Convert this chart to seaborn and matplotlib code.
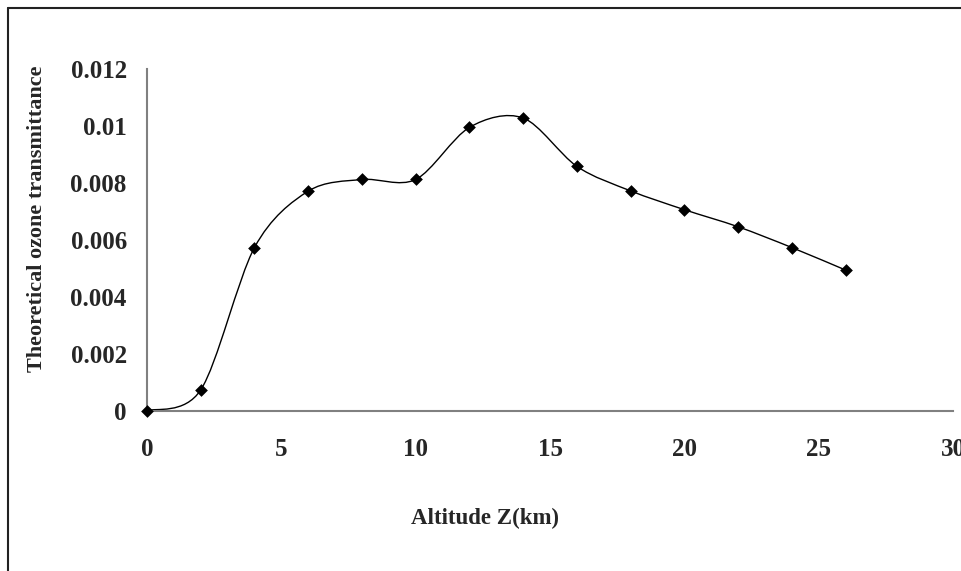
import matplotlib
matplotlib.use("Agg")
import matplotlib.pyplot as plt
from matplotlib.path import Path
from matplotlib.patches import PathPatch
from matplotlib.lines import Line2D
import numpy as np
import pandas as pd
import seaborn as sns

# values
altitude = [0, 2, 4, 6, 8, 10, 12, 14, 16, 18, 20, 22, 24, 26]
transmittance = [0.0, 0.00073, 0.00573, 0.00771, 0.00812, 0.00812, 0.00995,
                 0.01028, 0.00858, 0.00772, 0.00706, 0.00646, 0.00573, 0.00494]
x_ticks = [0, 5, 10, 15, 20, 25, 30]
y_ticks = [0, 0.002, 0.004, 0.006, 0.008, 0.010, 0.012]
y_tick_labels = ["0", "0.002", "0.004", "0.006", "0.008", "0.01", "0.012"]

df = pd.DataFrame({"Altitude": altitude, "Transmittance": transmittance})

sns.set_style("white")
plt.rcParams["font.family"] = ["Liberation Serif", "DejaVu Serif"]
plt.rcParams["font.weight"] = "bold"

fig = plt.figure(figsize=(9.61, 5.71), dpi=100)
ax = fig.add_axes([147 / 961, 160.3 / 571, 806 / 961, 341.7 / 571])

# smoothed line like Excel's (Catmull-Rom bezier through the points)
pts = df[["Altitude", "Transmittance"]].to_numpy(dtype=float)
n = len(pts)
verts = [pts[0]]
codes = [Path.MOVETO]
for i in range(n - 1):
    p0 = pts[max(i - 1, 0)]
    p1 = pts[i]
    p2 = pts[i + 1]
    p3 = pts[min(i + 2, n - 1)]
    verts += [p1 + (p2 - p0) / 6.5, p2 - (p3 - p1) / 6.5, p2]
    codes += [Path.CURVE4] * 3
ax.add_patch(PathPatch(Path(verts, codes), facecolor="none",
                       edgecolor="black", lw=1.0, zorder=2))

sns.scatterplot(data=df, x="Altitude", y="Transmittance", marker="D", s=42,
                color="black", edgecolor="black", linewidth=0, ax=ax,
                zorder=3, clip_on=False)

ax.set_xlim(0, 30)
ax.set_ylim(0, 0.012)
ax.set_xticks(x_ticks)
ax.set_xticklabels([str(t) for t in x_ticks])
ax.set_yticks(y_ticks)
ax.set_yticklabels(y_tick_labels)
ax.tick_params(axis="both", length=0, labelsize=18)
ax.tick_params(axis="x", pad=20)
ax.tick_params(axis="y", pad=14.5)
for lab in ax.get_xticklabels() + ax.get_yticklabels():
    lab.set_fontweight("bold")

for side in ["top", "right"]:
    ax.spines[side].set_visible(False)
for side in ["left", "bottom"]:
    ax.spines[side].set_color("#808080")
    ax.spines[side].set_linewidth(1.5)

ax.set_xlabel("Altitude Z(km)", fontsize=16.5, fontweight="bold", va="center")
ax.xaxis.set_label_coords(0.419, -0.314)
ax.set_ylabel("Theoretical ozone transmittance", fontsize=16,
              fontweight="bold", va="center", ha="center")
ax.yaxis.set_label_coords(-0.137, 0.5625)

# chart frame (only left and top edges show in the crop)
fig.add_artist(Line2D([8 / 961, 8 / 961], [0, 1 - 8 / 571], color="#222222",
                      lw=1.5, transform=fig.transFigure))
fig.add_artist(Line2D([8 / 961, 1], [1 - 8 / 571, 1 - 8 / 571], color="#222222",
                      lw=1.5, transform=fig.transFigure))

fig.savefig("out.png", dpi=100)
